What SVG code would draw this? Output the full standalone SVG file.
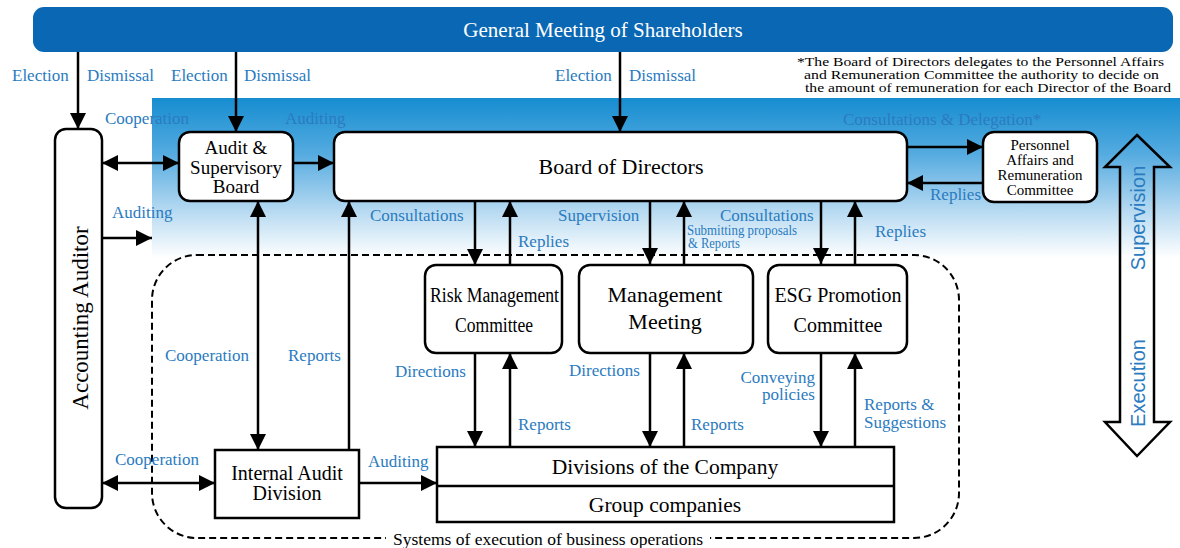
<svg xmlns="http://www.w3.org/2000/svg" width="1180" height="548" viewBox="0 0 1180 548">
<defs>
<linearGradient id="band" x1="0" y1="0" x2="0" y2="1">
<stop offset="0" stop-color="#168dd0"/>
<stop offset="0.35" stop-color="#55abe0"/>
<stop offset="0.7" stop-color="#b5d9f1"/>
<stop offset="1" stop-color="#ffffff"/>
</linearGradient>
<marker id="ah" markerUnits="userSpaceOnUse" markerWidth="17" markerHeight="17" refX="16" refY="8" orient="auto-start-reverse">
<path d="M0,0 L16,8 L0,16 Z" fill="#000"/>
</marker>
<style>
text{font-family:'Liberation Serif','Times New Roman','DejaVu Serif',serif}
.lb{fill:#2a7bbf;font-size:17px}
.nt{fill:#000}
.sans{font-family:'Liberation Sans',Arial,sans-serif}
.box{fill:#fff;stroke:#000;stroke-width:2.5}
.ln{fill:none;stroke:#000;stroke-width:2.5}
</style>
</defs>
<rect width="1180" height="548" fill="#fff"/>
<rect x="152" y="98" width="1028" height="160" fill="url(#band)"/>

<g id="gms">
<rect x="33" y="7" width="1140" height="45" rx="11" fill="#0a67b3"/>
<text x="603" y="37" text-anchor="middle" fill="#fff" font-size="21">General Meeting of Shareholders</text>
</g>

<g id="note" class="nt" font-size="13.5">
<text x="797" y="66" textLength="367" lengthAdjust="spacingAndGlyphs">*The Board of Directors delegates to the Personnel Affairs</text>
<text x="804" y="79" textLength="355" lengthAdjust="spacingAndGlyphs">and Remuneration Committee the authority to decide on</text>
<text x="805" y="92" textLength="366" lengthAdjust="spacingAndGlyphs">the amount of remuneration for each Director of the Board</text>
</g>

<g id="dashed-area">
<rect x="152" y="255" width="807" height="283" rx="45" fill="none" stroke="#000" stroke-width="2" stroke-dasharray="7,4"/>
<rect x="386" y="530" width="324" height="18" fill="#fff"/>
<text x="393" y="545" class="nt" font-size="16.5" textLength="310" lengthAdjust="spacingAndGlyphs">Systems of execution of business operations</text>
</g>

<g id="connectors" class="ln" marker-end="url(#ah)">
<path d="M78,52 V129"/>
<path d="M236,52 V132"/>
<path d="M620,52 V132"/>
<path d="M102,163 H179" marker-start="url(#ah)"/>
<path d="M293,163 H334"/>
<path d="M102,238 H152"/>
<path d="M907,147 H983"/>
<path d="M983,183 H907"/>
<path d="M258,201 V450" marker-start="url(#ah)"/>
<path d="M349,450 V201"/>
<path d="M475,201 V265"/>
<path d="M510,265 V201"/>
<path d="M650,201 V264"/>
<path d="M684,264 V201"/>
<path d="M821,201 V264"/>
<path d="M855,264 V201"/>
<path d="M475,353 V447"/>
<path d="M510,447 V353"/>
<path d="M650,353 V447"/>
<path d="M684,447 V353"/>
<path d="M821,353 V447"/>
<path d="M855,447 V353"/>
<path d="M102,483 H215" marker-start="url(#ah)"/>
<path d="M359,483 H437"/>
</g>

<g id="labels" class="lb">
<text x="12" y="81">Election</text>
<text x="87" y="81">Dismissal</text>
<text x="171" y="81">Election</text>
<text x="244" y="81">Dismissal</text>
<text x="555" y="81">Election</text>
<text x="629" y="81">Dismissal</text>
<text x="105" y="124">Cooperation</text>
<text x="285" y="124">Auditing</text>
<text x="843" y="125">Consultations &amp; Delegation*</text>
<text x="930" y="200">Replies</text>
<text x="112" y="218">Auditing</text>
<text x="370" y="221">Consultations</text>
<text x="518" y="247">Replies</text>
<text x="558" y="221">Supervision</text>
<text x="687" y="235" font-size="14" textLength="110" lengthAdjust="spacingAndGlyphs">Submitting proposals</text>
<text x="688" y="248" font-size="14" textLength="52" lengthAdjust="spacingAndGlyphs">&amp; Reports</text>
<text x="720" y="221">Consultations</text>
<text x="875" y="237">Replies</text>
<text x="165" y="361">Cooperation</text>
<text x="288" y="361">Reports</text>
<text x="395" y="377">Directions</text>
<text x="569" y="376">Directions</text>
<text x="518" y="430">Reports</text>
<text x="691" y="430">Reports</text>
<text x="815" y="383" text-anchor="end">Conveying</text>
<text x="815" y="400" text-anchor="end">policies</text>
<text x="864" y="410">Reports &amp;</text>
<text x="864" y="428">Suggestions</text>
<text x="115" y="465">Cooperation</text>
<text x="368" y="467">Auditing</text>
</g>

<g id="accounting-auditor">
<rect class="box" x="55" y="129" width="47" height="379" rx="11"/>
<text transform="translate(88,318) rotate(-90)" text-anchor="middle" class="nt" font-size="23">Accounting Auditor</text>
</g>

<g id="audit-supervisory-board">
<rect class="box" x="179" y="132" width="114" height="69" rx="11"/>
<text class="nt" font-size="19" text-anchor="middle"><tspan x="236" y="154">Audit &amp;</tspan><tspan x="236" y="174">Supervisory</tspan><tspan x="236" y="193">Board</tspan></text>
</g>

<g id="board-of-directors">
<rect class="box" x="334" y="132" width="573" height="69" rx="11"/>
<text x="621" y="174" text-anchor="middle" class="nt" font-size="22">Board of Directors</text>
</g>

<g id="personnel-committee">
<rect class="box" x="983" y="132" width="114" height="70" rx="11"/>
<text class="nt" font-size="15" text-anchor="middle"><tspan x="1040" y="150">Personnel</tspan><tspan x="1040" y="165">Affairs and</tspan><tspan x="1040" y="180">Remuneration</tspan><tspan x="1040" y="195">Committee</tspan></text>
</g>

<g id="risk-management-committee">
<rect class="box" x="425" y="265" width="137" height="88" rx="11"/>
<text x="430" y="302" class="nt" font-size="20" textLength="129" lengthAdjust="spacingAndGlyphs">Risk Management</text>
<text x="455" y="332" class="nt" font-size="20" textLength="78" lengthAdjust="spacingAndGlyphs">Committee</text>
</g>

<g id="management-meeting">
<rect class="box" x="579" y="265" width="174" height="88" rx="11"/>
<text class="nt" font-size="22" text-anchor="middle"><tspan x="665" y="302">Management</tspan><tspan x="665" y="329">Meeting</tspan></text>
</g>

<g id="esg-promotion-committee">
<rect class="box" x="768" y="265" width="139" height="88" rx="11"/>
<text class="nt" font-size="20" text-anchor="middle"><tspan x="838" y="302">ESG Promotion</tspan><tspan x="838" y="332">Committee</tspan></text>
</g>

<g id="internal-audit-division">
<rect class="box" x="215" y="450" width="144" height="68"/>
<text class="nt" font-size="20" text-anchor="middle"><tspan x="287" y="480">Internal Audit</tspan><tspan x="287" y="500">Division</tspan></text>
</g>

<g id="divisions">
<rect class="box" x="437" y="447" width="457" height="75"/>
<line x1="437" y1="486" x2="894" y2="486" stroke="#000" stroke-width="2.5"/>
<text x="665" y="474" text-anchor="middle" class="nt" font-size="21.5">Divisions of the Company</text>
<text x="665" y="512" text-anchor="middle" class="nt" font-size="21.5">Group companies</text>
</g>

<g id="supervision-execution">
<path d="M1137,135 L1170,167 L1154,167 L1154,422 L1170,422 L1137,456 L1105,422 L1120,422 L1120,167 L1105,167 Z" fill="none" stroke="#000" stroke-width="2.5" stroke-linejoin="miter"/>
<text transform="translate(1145,218) rotate(-90)" text-anchor="middle" fill="#2a7bbf" class="sans" font-size="20">Supervision</text>
<text transform="translate(1145,383) rotate(-90)" text-anchor="middle" fill="#2a7bbf" class="sans" font-size="20">Execution</text>
</g>
</svg>
